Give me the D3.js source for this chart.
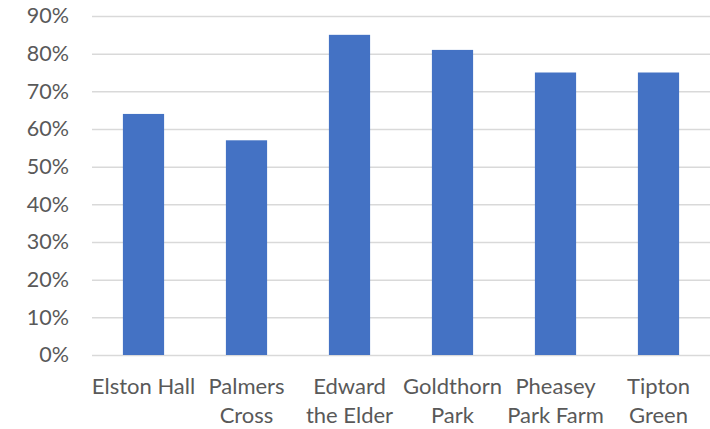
<!DOCTYPE html>
<html><head><meta charset="utf-8">
<script src="https://cdn.jsdelivr.net/npm/d3@7"></script>
<style>body{margin:0;background:#fff}svg{display:block}</style>
</head><body><svg id="c" width="710" height="429"></svg>
<script>
const categories = [["Elston Hall"],["Palmers","Cross"],["Edward","the Elder"],["Goldthorn","Park"],["Pheasey","Park Farm"],["Tipton","Green"]];
const values = [0.64, 0.57, 0.85, 0.81, 0.75, 0.75];
const yTicks = [0,0.1,0.2,0.3,0.4,0.5,0.6,0.7,0.8,0.9];

const svg = d3.select("#c");
const m = {left:92, right:710, top:16, bottom:355};
const keys = categories.map(c=>c.join(" "));
const x = d3.scaleBand().domain(keys).range([m.left, m.right]).paddingInner(0.6).paddingOuter(0.3);
const y = d3.scaleLinear().domain([0,0.9]).range([m.bottom, m.top]);
const font = "Lato, 'Open Sans', sans-serif";

const ya = svg.append("g").attr("transform",`translate(${m.left},0)`)
  .call(d3.axisLeft(y).tickValues(yTicks).tickFormat(d3.format(".0%")).tickSize(-(m.right-m.left)).tickPadding(23));
ya.select(".domain").remove();
ya.selectAll(".tick line").attr("stroke","#d9d9d9").attr("stroke-width",1.5);
ya.selectAll(".tick text").attr("fill","#595959").style("font-family",font).style("font-size","21.5px");

svg.append("g").selectAll("rect").data(values).join("rect")
  .attr("x",(d,i)=>x(keys[i])).attr("width",x.bandwidth())
  .attr("y",d=>y(d)).attr("height",d=>y(0)-y(d)).attr("fill","#4472c4");

const xa = svg.append("g").attr("transform",`translate(0,${m.bottom})`)
  .call(d3.axisBottom(x).tickSize(0).tickFormat(""));
xa.select(".domain").remove();
xa.selectAll(".tick").each(function(d,i){
  const t = d3.select(this).append("text").attr("fill","#595959").attr("text-anchor","middle")
    .style("font-family",font).style("font-size","22px");
  categories[i].forEach((line,j)=>t.append("tspan").attr("x",0).attr("y",39+j*29).text(line));
});
</script></body></html>
